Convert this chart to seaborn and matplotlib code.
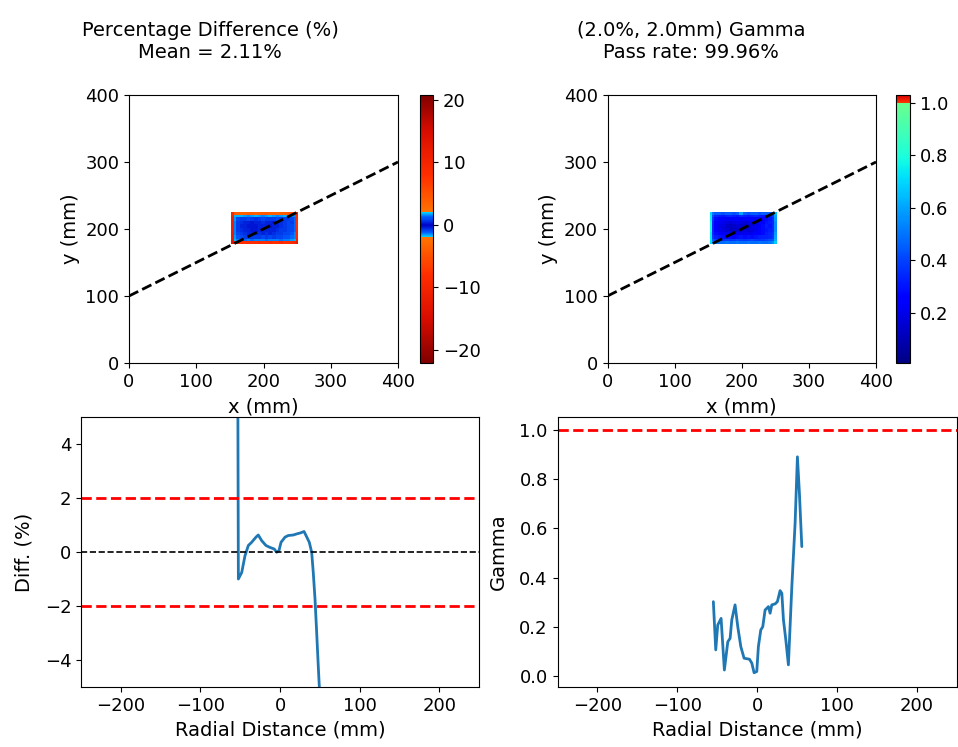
import numpy as np
import pandas as pd
import matplotlib
matplotlib.use("Agg")
import matplotlib.pyplot as plt
from matplotlib.colors import LinearSegmentedColormap
import seaborn as sns

# ---- 2D maps (rows listed from top y to bottom y) ----
field_x = (152, 252)   # mm
field_y = (178, 225)   # mm
edge_cell = 3.5        # mm, width of the outermost ring of cells

diff_map = [
    [9.0, 4.5, 3.8, 3.6, 3.5, 3.8, 4.0, 3.6, 3.8, 4.0, 4.5, 4.0, 3.8, 3.5, 3.8, 4.0, 4.5, 5.0, 6.0, 10.0],
    [10.0, 1.8, 1.8, 1.7, 1.6, 1.5, 1.6, 1.7, 1.6, 1.5, 1.6, 1.7, 1.6, 1.5, 1.6, 1.7, 1.6, 1.5, 1.5, 9.0],
    [11.0, 1.6, 1.0, 0.8, 0.8, 0.9, 0.7, 0.6, 0.8, 0.9, 0.8, 0.7, 0.8, 0.9, 0.8, 0.7, 0.8, 0.9, 1.2, 8.5],
    [11.0, 1.5, 0.8, 0.6, 0.5, 0.4, 0.3, 0.4, 0.5, 0.6, 0.5, 0.4, 0.3, 0.5, 0.6, 0.7, 0.9, 0.8, 1.3, 8.0],
    [11.5, 1.4, 0.7, 0.5, 0.4, 0.3, 0.2, 0.3, 0.4, 0.5, 0.4, 0.3, 0.4, 0.5, 0.6, 0.8, 1.0, 0.9, 1.3, 8.0],
    [11.5, 1.4, 0.8, 0.6, 0.5, 0.4, 0.3, 0.3, 0.4, 0.4, 0.5, 0.4, 0.5, 0.6, 0.7, 0.8, 0.9, 1.0, 1.3, 8.5],
    [12.0, 1.5, 0.9, 0.7, 0.6, 0.5, 0.4, 0.5, 0.6, 0.5, 0.6, 0.5, 0.6, 0.7, 0.8, 0.9, 1.0, 1.1, 1.4, 9.0],
    [12.0, 1.6, 1.1, 0.9, 0.8, 0.7, 0.8, 0.7, 0.8, 0.9, 0.8, 0.9, 0.8, 0.9, 1.0, 1.1, 1.1, 1.2, 1.5, 9.0],
    [12.5, 1.7, 1.5, 1.4, 1.3, 1.4, 1.3, 1.4, 1.5, 1.4, 1.3, 1.4, 1.5, 1.4, 1.3, 1.4, 1.5, 1.6, 1.7, 10.0],
    [14.0, 10.0, 9.0, 8.0, 8.0, 9.0, 8.0, 8.0, 9.0, 8.0, 8.0, 9.0, 8.0, 8.0, 9.0, 8.0, 8.0, 9.0, 10.0, 12.0],
]

gamma_map = [
    [0.70, 0.50, 0.45, 0.45, 0.42, 0.45, 0.45, 0.42, 0.45, 0.60, 0.45, 0.42, 0.45, 0.45, 0.42, 0.45, 0.45, 0.45, 0.50, 0.65],
    [0.75, 0.42, 0.34, 0.32, 0.30, 0.32, 0.34, 0.32, 0.30, 0.34, 0.32, 0.30, 0.32, 0.34, 0.32, 0.30, 0.32, 0.34, 0.38, 0.60],
    [0.75, 0.38, 0.28, 0.26, 0.24, 0.22, 0.24, 0.26, 0.24, 0.22, 0.24, 0.26, 0.24, 0.22, 0.24, 0.26, 0.28, 0.30, 0.35, 0.58],
    [0.78, 0.35, 0.26, 0.22, 0.20, 0.18, 0.16, 0.18, 0.20, 0.18, 0.16, 0.18, 0.20, 0.22, 0.24, 0.26, 0.30, 0.32, 0.34, 0.55],
    [0.78, 0.34, 0.24, 0.20, 0.18, 0.14, 0.12, 0.14, 0.16, 0.14, 0.12, 0.14, 0.18, 0.20, 0.22, 0.28, 0.32, 0.30, 0.35, 0.55],
    [0.78, 0.34, 0.24, 0.21, 0.18, 0.16, 0.12, 0.12, 0.14, 0.16, 0.18, 0.16, 0.18, 0.21, 0.24, 0.28, 0.30, 0.32, 0.34, 0.55],
    [0.75, 0.35, 0.28, 0.24, 0.22, 0.20, 0.18, 0.20, 0.21, 0.20, 0.21, 0.20, 0.21, 0.24, 0.26, 0.28, 0.32, 0.34, 0.36, 0.58],
    [0.75, 0.38, 0.32, 0.30, 0.28, 0.26, 0.28, 0.26, 0.28, 0.30, 0.28, 0.30, 0.28, 0.30, 0.32, 0.33, 0.33, 0.34, 0.38, 0.60],
    [0.75, 0.44, 0.40, 0.38, 0.37, 0.38, 0.37, 0.38, 0.40, 0.38, 0.37, 0.38, 0.40, 0.38, 0.37, 0.38, 0.40, 0.42, 0.44, 0.62],
    [0.72, 0.55, 0.50, 0.48, 0.48, 0.50, 0.48, 0.48, 0.50, 0.48, 0.48, 0.50, 0.48, 0.48, 0.50, 0.48, 0.48, 0.50, 0.55, 0.68],
]

# profile line across the maps (mm)
line_x = [0, 400]
line_y = [100, 300]

# ---- profiles along the line ----
diff_r = [-54.5, -53.2, -52.3, -48.1, -44.0, -39.8, -35.6, -30.2, -27.3, -23.0, -17.6,
          -12.6, -7.2, -4.2, -1.3, 1.3, 6.3, 10.4, 16.7, 21.0, 26.0, 30.2, 32.7,
          36.8, 39.8, 41.8, 44.0, 46.1, 48.1, 49.4, 50.5, 51.5]
diff_val = [40.0, 8.0, -1.0, -0.76, -0.14, 0.24, 0.36, 0.55, 0.63, 0.42, 0.24,
            0.17, 0.11, -0.01, 0.05, 0.36, 0.55, 0.61, 0.63, 0.67, 0.71, 0.76, 0.61,
            0.36, -0.01, -0.76, -1.75, -3.0, -4.24, -5.0, -8.0, -20.0]

gamma_r = [-54.8, -51.8, -49.3, -45.1, -41.0, -36.7, -33.8, -31.7, -27.6, -24.2, -20.4,
           -16.3, -9.6, -6.6, -3.8, -0.4, 1.6, 4.6, 7.1, 10.0, 14.2, 16.3, 18.4,
           22.6, 25.4, 28.8, 31.0, 33.0, 36.0, 39.2, 43.5, 47.6, 50.5, 53.0, 56.0]
gamma_val = [0.302, 0.106, 0.207, 0.234, 0.024, 0.139, 0.153, 0.228, 0.289, 0.200, 0.119,
             0.072, 0.068, 0.052, 0.013, 0.018, 0.119, 0.187, 0.200, 0.268, 0.282, 0.255, 0.289,
             0.293, 0.302, 0.347, 0.336, 0.228, 0.146, 0.045, 0.363, 0.621, 0.891, 0.743, 0.526]

diff_tol = 2.0
gamma_tol = 1.0

diff_title = "Percentage Difference (%)\nMean = 2.11%"
gamma_title = "(2.0%, 2.0mm) Gamma\nPass rate: 99.96%"

# ---- colour maps ----
diff_vmin, diff_vmax = -22.1, 20.8
diff_nodes = [
    (-22.1, (0.50, 0.00, 0.00)),
    (-15.0, (0.85, 0.05, 0.00)),
    (-8.0, (1.00, 0.18, 0.00)),
    (-2.05, (1.00, 0.45, 0.00)),
    (-2.0, (0.00, 0.85, 1.00)),
    (-1.2, (0.00, 0.35, 1.00)),
    (0.0, (0.00, 0.00, 0.78)),
    (1.2, (0.00, 0.35, 1.00)),
    (2.0, (0.00, 0.85, 1.00)),
    (2.05, (1.00, 0.45, 0.00)),
    (8.0, (1.00, 0.18, 0.00)),
    (15.0, (0.85, 0.05, 0.00)),
    (20.8, (0.50, 0.00, 0.00)),
]
diff_cmap = LinearSegmentedColormap.from_list(
    "diff_cmap",
    [((v - diff_vmin) / (diff_vmax - diff_vmin), c) for v, c in diff_nodes])

gamma_vmin, gamma_vmax = 0.008, 1.03
jet = plt.get_cmap("jet")
g_nodes = []
for v in np.linspace(gamma_vmin, 1.0, 40):
    g_nodes.append(((v - gamma_vmin) / (gamma_vmax - gamma_vmin), jet(0.48 * v)))
g_nodes.append(((1.0005 - gamma_vmin) / (gamma_vmax - gamma_vmin), (1.0, 0.2, 0.0)))
g_nodes.append((1.0, (0.85, 0.0, 0.0)))
gamma_cmap = LinearSegmentedColormap.from_list("gamma_cmap", g_nodes)


def cell_edges(lo, hi, n, ring):
    """Cell edges with a narrow outer ring of cells and even interior cells."""
    inner = np.linspace(lo + 2 * ring, hi - 2 * ring, n - 3)
    return np.concatenate([[lo, lo + ring], inner, [hi - ring, hi]])


n_rows, n_cols = np.array(diff_map).shape
xe = cell_edges(field_x[0], field_x[1], n_cols, edge_cell)
ye = cell_edges(field_y[0], field_y[1], n_rows, edge_cell)

# ---- figure ----
sns.set_style("ticks")
plt.rcParams["font.family"] = ["DejaVu Sans"]
plt.rcParams["axes.edgecolor"] = "black"
plt.rcParams["xtick.color"] = "black"
plt.rcParams["ytick.color"] = "black"
plt.rcParams["axes.labelcolor"] = "black"
plt.rcParams["text.color"] = "black"
plt.rcParams["xtick.labelsize"] = 13
plt.rcParams["ytick.labelsize"] = 13
plt.rcParams["axes.labelsize"] = 14

W, H = 958, 747
fig = plt.figure(figsize=(W / 100, H / 100), dpi=100)


def box(x0, y0, x1, y1):
    return [x0 / W, 1 - y1 / H, (x1 - x0) / W, (y1 - y0) / H]


ax_d = fig.add_axes(box(129, 95, 398, 363))
cax_d = fig.add_axes(box(420, 95, 433, 363))
ax_g = fig.add_axes(box(607.5, 95, 876, 363))
cax_g = fig.add_axes(box(896, 95, 910, 363))
ax_pd = fig.add_axes(box(81, 417, 479, 687))
ax_pg = fig.add_axes(box(557.5, 417, 956.7, 687))

for ax, data, cmap, vmin, vmax, cax, ticks in [
    (ax_d, diff_map, diff_cmap, diff_vmin, diff_vmax, cax_d, [-20, -10, 0, 10, 20]),
    (ax_g, gamma_map, gamma_cmap, gamma_vmin, gamma_vmax, cax_g, [0.2, 0.4, 0.6, 0.8, 1.0]),
]:
    mesh = ax.pcolormesh(xe, ye, np.flipud(np.array(data)), cmap=cmap,
                         vmin=vmin, vmax=vmax, shading="flat")
    ax.plot(line_x, line_y, color="black", linestyle="--", linewidth=2)
    ax.set_xlim(0, 400)
    ax.set_ylim(0, 400)
    ax.set_xticks([0, 100, 200, 300, 400])
    ax.set_yticks([0, 100, 200, 300, 400])
    ax.set_xlabel("x (mm)", labelpad=5)
    ax.set_ylabel("y (mm)")
    cb = fig.colorbar(mesh, cax=cax, ticks=ticks)
    cb.outline.set_edgecolor("black")
    cb.ax.tick_params(labelsize=13)

fig.text(210 / W, 1 - 41 / H, diff_title, ha="center", va="center", fontsize=14)
fig.text(691 / W, 1 - 41 / H, gamma_title, ha="center", va="center", fontsize=14)

# difference profile
pd_df = pd.DataFrame({"r": diff_r, "diff": diff_val})
sns.lineplot(data=pd_df, x="r", y="diff", ax=ax_pd, color="#1f77b4",
             linewidth=2, estimator=None, sort=False)
ax_pd.axhline(diff_tol, color="red", linestyle="--", linewidth=2)
ax_pd.axhline(-diff_tol, color="red", linestyle="--", linewidth=2)
ax_pd.axhline(0, color="black", linestyle="--", linewidth=1.2)
ax_pd.set_xlim(-250, 250)
ax_pd.set_ylim(-5, 5)
ax_pd.set_yticks([-4, -2, 0, 2, 4])
ax_pd.set_xticks([-200, -100, 0, 100, 200])
ax_pd.set_xlabel("Radial Distance (mm)")
ax_pd.set_ylabel("Diff. (%)", labelpad=8)

# gamma profile
pg_df = pd.DataFrame({"r": gamma_r, "gamma": gamma_val})
sns.lineplot(data=pg_df, x="r", y="gamma", ax=ax_pg, color="#1f77b4",
             linewidth=2, estimator=None, sort=False)
ax_pg.axhline(gamma_tol, color="red", linestyle="--", linewidth=2)
ax_pg.set_xlim(-250, 250)
ax_pg.set_ylim(-0.045, 1.053)
ax_pg.set_yticks([0.0, 0.2, 0.4, 0.6, 0.8, 1.0])
ax_pg.set_xticks([-200, -100, 0, 100, 200])
ax_pg.set_xlabel("Radial Distance (mm)")
ax_pg.set_ylabel("Gamma", labelpad=8)

fig.savefig("out.png", dpi=100)
